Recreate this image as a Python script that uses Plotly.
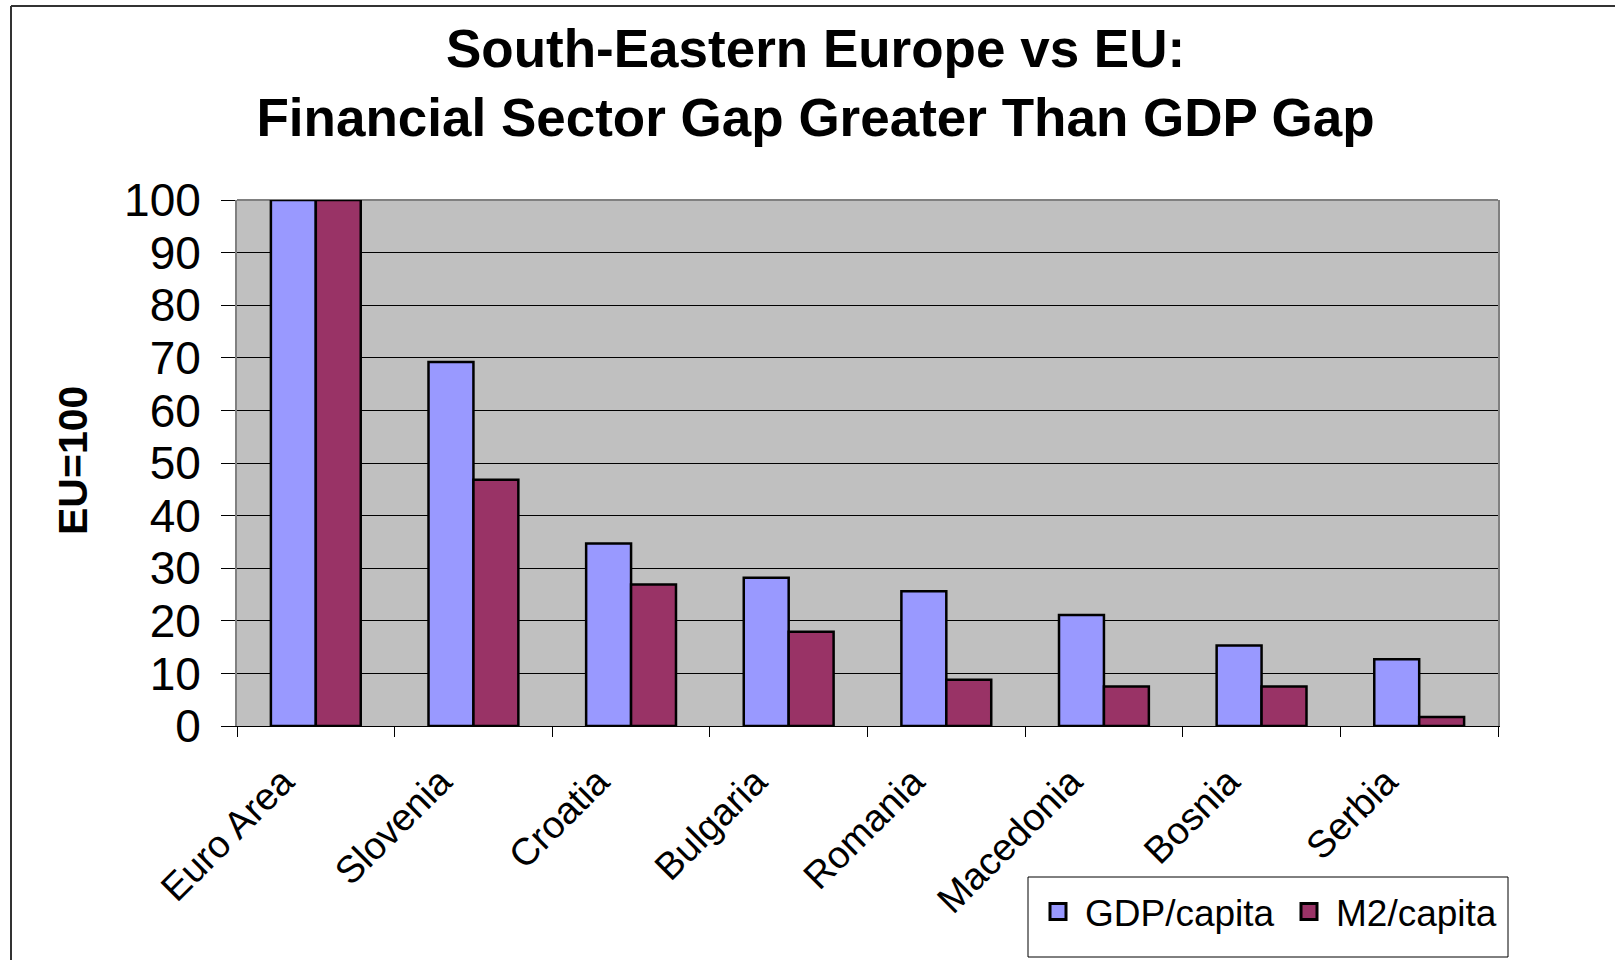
import plotly.graph_objects as go

categories = ["Euro Area", "Slovenia", "Croatia", "Bulgaria", "Romania", "Macedonia", "Bosnia", "Serbia"]
gdp_per_capita = [100, 69.2, 34.7, 28.2, 25.6, 21.1, 15.3, 12.7]
m2_per_capita = [100, 46.8, 26.9, 17.9, 8.8, 7.5, 7.5, 1.7]
y_ticks = [0, 10, 20, 30, 40, 50, 60, 70, 80, 90, 100]

GDP_COLOR = "#9999FF"
M2_COLOR = "#993366"
FONT = "Liberation Sans, Arial, sans-serif"

# plot area in page pixels
L, R, T, B = 237, 1498, 200, 726
PW, PH = R - L, B - T


def px(x):
    return (x - L) / PW


def py(y):
    return (B - y) / PH


fig = go.Figure()
fig.add_trace(go.Bar(x=categories, y=gdp_per_capita, name="GDP/capita",
                     marker=dict(color=GDP_COLOR, line=dict(color="black", width=2.5)),
                     showlegend=False))
fig.add_trace(go.Bar(x=categories, y=m2_per_capita, name="M2/capita",
                     marker=dict(color=M2_COLOR, line=dict(color="black", width=2.5)),
                     showlegend=False))
# legend proxies
for nm, col in [("GDP/capita", GDP_COLOR), ("M2/capita", M2_COLOR)]:
    fig.add_trace(go.Scatter(x=[None], y=[None], mode="markers", name=nm,
                             marker=dict(symbol="square", size=16, color=col,
                                         line=dict(color="black", width=3))))

fig.update_layout(
    width=1615, height=960,
    margin=dict(l=L, r=1615 - R, t=T, b=960 - B, autoexpand=False),
    paper_bgcolor="white",
    plot_bgcolor="#C0C0C0",
    barmode="group",
    bargap=0.43,
    bargroupgap=0,
    font=dict(family=FONT, color="black"),
    title=dict(
        text="<b>South-Eastern Europe vs EU:<br>Financial Sector Gap Greater Than GDP Gap</b>",
        font=dict(size=53, family=FONT, color="black"),
        x=0.505, xanchor="center", xref="container",
        y=1 - 67 / 960, yanchor="middle", yref="container",
    ),
    legend=dict(
        orientation="h",
        x=px(1031), xanchor="left",
        y=py(912), yanchor="middle",
        font=dict(size=37, family=FONT, color="black"),
        borderwidth=0, bgcolor="rgba(255,255,255,0)",
        itemwidth=44,
        entrywidth=192, entrywidthmode="pixels",
        tracegroupgap=0,
    ),
    xaxis=dict(
        type="category",
        tickangle=-45,
        tickfont=dict(size=38, family=FONT, color="black"),
        ticks="outside", ticklen=10, tickcolor="black", tickwidth=1,
        tickson="boundaries",
        showline=True, linecolor="black", linewidth=1,
        showgrid=False,
        ticklabelstandoff=17,
        ticklabelshift=-33,
        automargin=False,
    ),
    yaxis=dict(
        range=[0, 100],
        tickvals=y_ticks,
        tickfont=dict(size=46, family=FONT, color="black"),
        ticks="outside", ticklen=14, tickcolor="black", tickwidth=1,
        showline=True, linecolor="#808080", linewidth=2, mirror=True,
        showgrid=True, gridcolor="black", gridwidth=1,
        zeroline=False,
        ticklabelstandoff=11,
        automargin=False,
    ),
    annotations=[
        dict(text="<b>EU=100</b>", textangle=-90, x=px(73), y=py(461),
             xref="paper", yref="paper", xanchor="center", yanchor="middle",
             showarrow=False, font=dict(size=41, family=FONT, color="black")),
    ],
    shapes=[
        # plot-area top border
        dict(type="line", xref="paper", yref="paper", x0=0, x1=1, y0=1, y1=1,
             line=dict(color="#808080", width=2), layer="below"),
        # legend box
        dict(type="rect", xref="paper", yref="paper",
             x0=px(1028), x1=px(1508), y0=py(957), y1=py(877),
             line=dict(color="black", width=1), fillcolor="white"),
        # outer chart frame (top and left only visible)
        dict(type="line", xref="paper", yref="paper",
             x0=px(11), x1=px(1620), y0=py(6), y1=py(6),
             line=dict(color="#333333", width=2)),
        dict(type="line", xref="paper", yref="paper",
             x0=px(11), x1=px(11), y0=py(6), y1=py(965),
             line=dict(color="#333333", width=2)),
    ],
)

fig.write_html("out.html", config={"displayModeBar": False},
               post_script="document.body.style.margin='0';")
